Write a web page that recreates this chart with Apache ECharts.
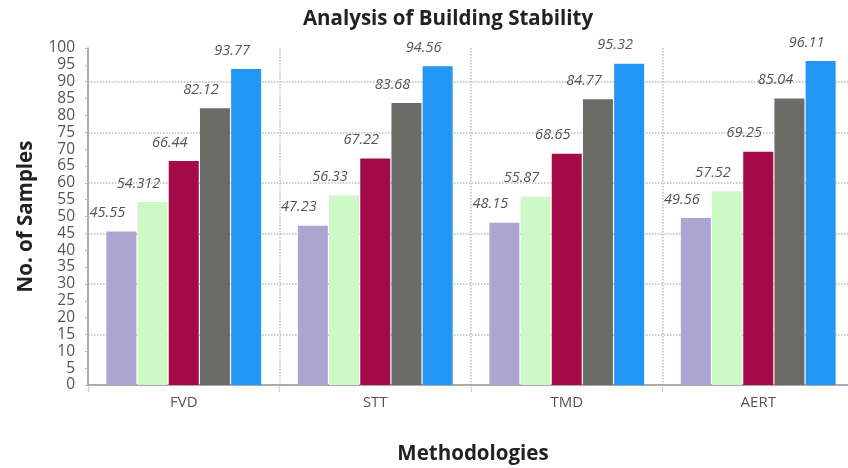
<!DOCTYPE html>
<html><head><meta charset="utf-8">
<script src="https://cdn.jsdelivr.net/npm/echarts@6/dist/echarts.min.js"></script>
<style>html,body{margin:0;padding:0;background:#fff}#c{width:848px;height:468px}</style>
</head><body><div id="c"></div>
<script>
const categories = ['FVD', 'STT', 'TMD', 'AERT'];
const s1 = [45.55, 47.23, 48.15, 49.56];
const s2 = [54.312, 56.33, 55.87, 57.52];
const s3 = [66.44, 67.22, 68.65, 69.25];
const s4 = [82.12, 83.68, 84.77, 85.04];
const s5 = [93.77, 94.56, 95.32, 96.11];
const colors = ['#aca5d1', '#cdf9c6', '#a30a47', '#6b6c67', '#2196f3'];
const seriesData = [s1, s2, s3, s4, s5];
const font = '"Open Sans", sans-serif';

const chart = echarts.init(document.getElementById('c'));
chart.setOption({
  animation: false,
  title: { text: 'Analysis of Building Stability', left: 443, top: 4, textAlign: 'center',
    textStyle: { fontFamily: font, fontSize: 20.5, fontWeight: 'bold', color: '#222' } },
  grid: { left: 88, top: 48, width: 766, height: 337, containLabel: false, outerBoundsMode: 'none' },
  xAxis: {
    type: 'category', data: categories,
    name: 'Methodologies', nameLocation: 'middle', nameGap: 59,
    nameTextStyle: { fontFamily: font, fontSize: 20.5, fontWeight: 'bold', color: '#222', padding: [0, 0, 0, 4] },
    axisLine: { lineStyle: { color: '#999', width: 1.5 } },
    axisTick: { show: true, length: 8, lineStyle: { color: '#aaa', type: 'dotted' } },
    axisLabel: { fontFamily: font, fontSize: 15, color: '#555', margin: 10 },
    splitLine: { show: true, lineStyle: { color: '#bbb', type: 'dotted', width: 1.5 } }
  },
  yAxis: {
    type: 'value', min: 0, max: 100, interval: 5,
    name: 'No. of Samples', nameLocation: 'middle', nameGap: 51,
    nameTextStyle: { fontFamily: font, fontSize: 20.5, fontWeight: 'bold', color: '#222' },
    axisLine: { show: true, lineStyle: { color: '#999', width: 1.5 } },
    axisTick: { show: true, length: 3, lineStyle: { color: '#bbb' } },
    axisLabel: { fontFamily: font, fontSize: 15.5, color: '#555', margin: 13 },
    splitLine: { show: true, lineStyle: { color: ['#bbb', 'rgba(0,0,0,0)', 'rgba(0,0,0,0)'], type: 'dotted', width: 1.5 } }
  },
  series: seriesData.map((d, i) => ({
    type: 'bar', data: d, barWidth: 30, barGap: '4%',
    itemStyle: { color: colors[i] },
    label: { show: true, position: 'top', offset: [-14, -6], fontFamily: font, fontSize: 14.5,
      fontStyle: 'italic', color: '#555' }
  }))
});
</script></body></html>
